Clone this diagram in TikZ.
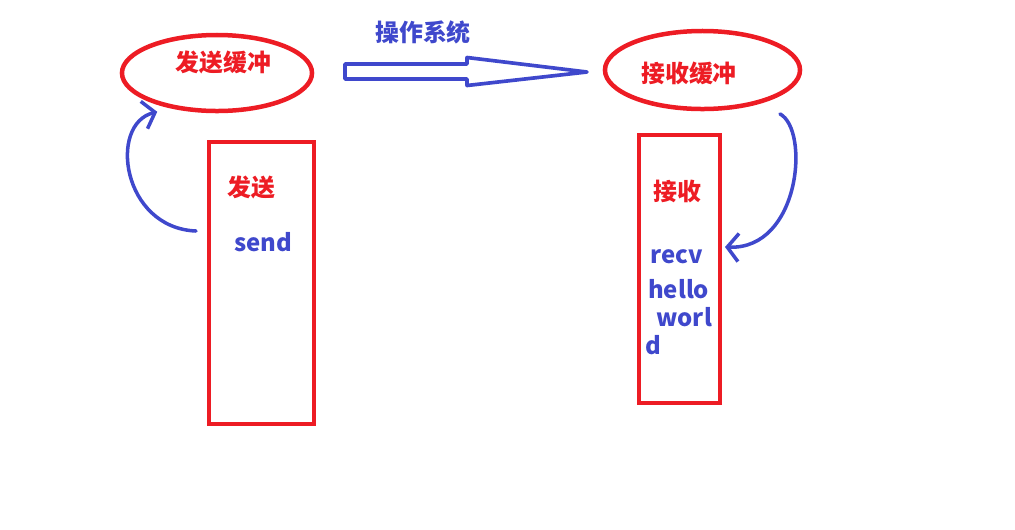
\documentclass[tikz,border=0pt]{standalone}
\usepackage{fontspec}
\newfontfamily\cjk{Noto Sans CJK SC}
\usepackage{xcolor}
\usetikzlibrary{
	shapes.geometric,
	arrows.meta,
	positioning,
	calc
}
\definecolor{paintred}{HTML}{ED1C24}
\definecolor{paintblue}{HTML}{3F48CC}

\begin{document}
\begin{tikzpicture}[
				x=0.025cm, y=-0.025cm,
				buffer/.style={
					ellipse, draw=paintred, line width=3.2pt, inner sep=0pt
				},
				callbox/.style={
					rectangle, draw=paintred, line width=3.2pt, inner sep=0pt
				},
				redtext/.style={
					text=paintred, inner sep=0pt,
					font=\cjk\bfseries\fontsize{17pt}{20pt}\selectfont
				},
				bluetext/.style={
					text=paintblue, inner sep=0pt,
					font=\cjk\bfseries\fontsize{17pt}{20pt}\selectfont
				},
				curvy/.style={draw=paintblue, line width=2.5pt, line cap=round,
					-{Straight Barb[length=8pt,width=20pt]}},
				hollow/.style={draw=paintblue, line width=2.6pt, line join=round}
				]
				\useasboundingbox (0,0) rectangle (1015,529);
				
				% send buffer
				\node[buffer, minimum width=4.75cm, minimum height=1.9cm] (sendbuf) at (217,73) {};
				\node[redtext] (sendbufText) at (223.5,62) {发送缓冲};
				
				% receive buffer
				\node[buffer, minimum width=4.875cm, minimum height=1.95cm] (recvbuf) at (702.5,70) {};
				\node[redtext] (recvbufText) at (689,73) {接收缓冲};
				
				% operating system
				\node[bluetext] (os) at (423,32.5) {操作系统};
				\draw[hollow] (345,64) -- (467,64) -- (467,57.5) -- (587,72) -- (467,85.5) -- (467,79) -- (345,79) -- cycle;
				
				% send
				\node[callbox, minimum width=2.625cm, minimum height=7.05cm] (sendbox) at (261.5,283) {};
				\node[redtext] (sendTitle) at (251,187) {发送};
				\node[bluetext] (send) at (263,242) {send};
				
				% recv
				\node[callbox, minimum width=2.025cm, minimum height=6.7cm] (recvbox) at (679.5,269) {};
				\node[redtext] (recvTitle) at (677,191) {接收};
				\node[bluetext, anchor=north west, align=left] (recv) at (645,249)
					{\hspace*{3.5pt}recv\\[5pt]\hspace*{2pt}hello\\\hspace*{8pt}worl\\d};
				
				% copy arrows
				\coordinate (sendFrom) at (196,231);
				\draw[curvy] (sendFrom) .. controls (122,228) and (108,124) .. ([yshift=-5pt]sendbuf.208);
				\coordinate (recvTo) at (725,247);
				\draw[curvy, shorten <=0.55cm] (recvbuf.-30) .. controls (810,130) and (800,250) .. (recvTo);
			\end{tikzpicture}
\end{document}
